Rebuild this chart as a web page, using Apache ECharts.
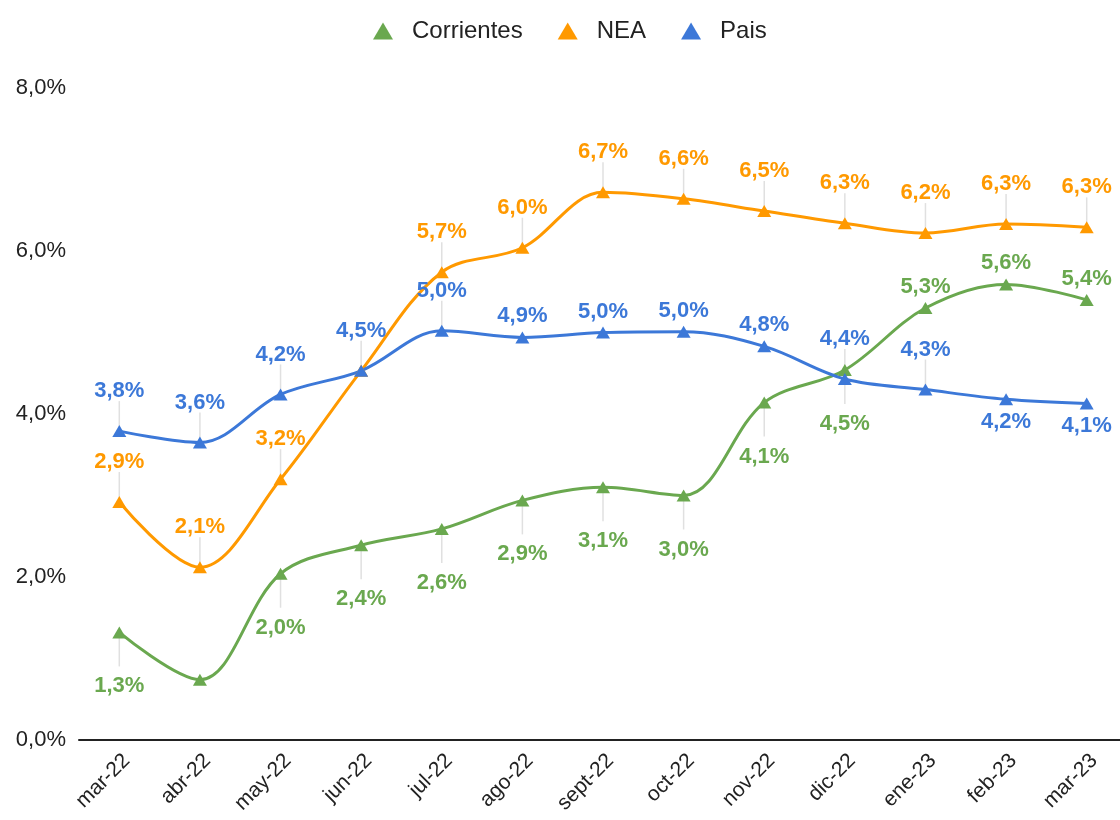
<!DOCTYPE html>
<html>
<head>
<meta charset="utf-8">
<script src="https://cdn.jsdelivr.net/npm/echarts@6/dist/echarts.min.js"></script>
<style>
html,body{margin:0;padding:0;background:#fff;overflow:hidden;width:1120px;height:820px;}
#chart{width:1127px;height:820px;}
</style>
</head>
<body>
<div id="chart"></div>
<script>
// ---- data ----
const categories = ['mar-22','abr-22','may-22','jun-22','jul-22','ago-22','sept-22','oct-22','nov-22','dic-22','ene-23','feb-23','mar-23'];
const corrientes = [1.32, 0.74, 2.04, 2.39, 2.59, 2.94, 3.10, 3.00, 4.14, 4.54, 5.30, 5.59, 5.40];
const nea        = [2.92, 2.12, 3.20, 4.53, 5.74, 6.04, 6.72, 6.64, 6.49, 6.34, 6.22, 6.33, 6.29];
const pais       = [3.79, 3.65, 4.24, 4.53, 5.02, 4.94, 5.00, 5.01, 4.83, 4.43, 4.30, 4.18, 4.13];
const yTicks = [0, 2, 4, 6, 8];

// label placement per point: 'A' far above (with leader), 'a' just above,
// 'B' far below (with leader), 'b' just below, '' hidden
const corrientesLabelSide = ['B','','B','B','B','B','B','B','B','B','a','a','a'];
const neaLabelSide        = ['A','A','A','','A','A','A','A','A','A','A','A','A'];
const paisLabelSide       = ['A','A','A','A','A','a','a','a','a','A','A','b','b'];

const COLORS = {corrientes:'#6aa84f', nea:'#ff9900', pais:'#3c78d8'};
const FONT = 'Liberation Sans, Arial, sans-serif';
const fmt = v => v.toFixed(1).replace('.', ',') + '%';

function labelFor(side, color){
  if (!side) return {show:false};
  const base = {show:true, color:color, fontFamily:FONT,
                fontWeight:'bold', fontSize:22, formatter: p => fmt(p.value)};
  if (side==='A') return Object.assign(base, {position:'top', distance:23});
  if (side==='a') return Object.assign(base, {position:'top', distance:4});
  if (side==='B') return Object.assign(base, {position:'bottom', distance:37});
  if (side==='b') return Object.assign(base, {position:'bottom', distance:6});
}

function lineSeries(name, values, sides, color){
  return {
    name: name, type:'line', smooth:0.35,
    symbol:'triangle', symbolSize:[14,12], z:3,
    lineStyle:{width:3, color:color}, itemStyle:{color:color},
    emphasis:{disabled:true},
    data: values.map((v,i)=>({value:v, label:labelFor(sides[i], color)}))
  };
}

function leaderSeries(values, sides){
  return {
    type:'custom', silent:true, z:1, legendHoverLink:false,
    data: values.map((v,i)=>[i, v, sides[i]==='A' ? -1 : (sides[i]==='B' ? 1 : 0)]),
    renderItem: function(params, api){
      const dir = api.value(2);
      if (!dir) return null;
      const c = api.coord([api.value(0), api.value(1)]);
      const len = dir < 0 ? 30 : 34;
      return {type:'line', shape:{x1:c[0], y1:c[1], x2:c[0], y2:c[1] + dir*len},
              style:{stroke:'#e0e0e0', lineWidth:1.5}};
    },
    tooltip:{show:false}
  };
}

const chart = echarts.init(document.getElementById('chart'), null, {renderer:'canvas'});
chart.setOption({
  backgroundColor:'#ffffff',
  animation:false,
  legend:{
    top:14, left:368, itemGap:35, itemWidth:20, itemHeight:17,
    icon:'triangle',
    textStyle:{fontFamily:FONT, fontSize:24, color:'#222', padding:[3,0,0,14]},
    data:['Corrientes','NEA','Pais']
  },
  grid:{left:79, right:0, top:88, bottom:80, containLabel:false},
  xAxis:{
    type:'category', data:categories, boundaryGap:true,
    axisLine:{lineStyle:{color:'#222', width:2}},
    axisTick:{show:false},
    axisLabel:{rotate:45, margin:10, interval:0, color:'#222', fontSize:21, fontFamily:FONT,
               verticalAlign:'top'},
    splitLine:{show:false}
  },
  yAxis:{
    type:'value', min:yTicks[0], max:yTicks[yTicks.length-1], interval:yTicks[1]-yTicks[0],
    axisLine:{show:false}, axisTick:{show:false}, splitLine:{show:false},
    axisLabel:{margin:13, color:'#222', fontSize:22, fontFamily:FONT,
               formatter: v => v.toFixed(1).replace('.', ',') + '%'}
  },
  series:[
    leaderSeries(corrientes, corrientesLabelSide),
    leaderSeries(nea, neaLabelSide),
    leaderSeries(pais, paisLabelSide),
    lineSeries('Corrientes', corrientes, corrientesLabelSide, COLORS.corrientes),
    lineSeries('NEA', nea, neaLabelSide, COLORS.nea),
    lineSeries('Pais', pais, paisLabelSide, COLORS.pais)
  ]
});
</script>
</body>
</html>
